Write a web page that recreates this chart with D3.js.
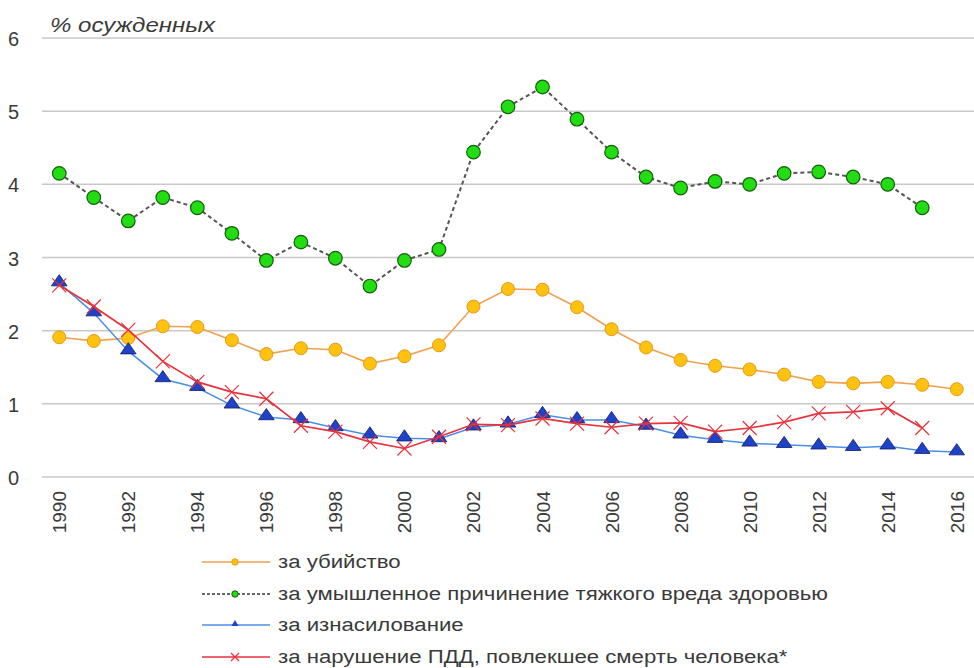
<!DOCTYPE html>
<meta charset="utf-8">
<style>
body { margin: 0; background: #fff; }
text { font-family: "Liberation Sans", Arial, sans-serif; fill: #3a3a3a; }
</style>
<body>
<svg id="chart" width="974" height="668"></svg>
<script src="https://cdn.jsdelivr.net/npm/d3@7"></script>
<script>
// data
var years = d3.range(1990, 2017);
var yTicks = [0, 1, 2, 3, 4, 5, 6];
var xTickYears = d3.range(1990, 2017, 2);

var murder = [1.91, 1.86, 1.90, 2.06, 2.05, 1.87, 1.68, 1.76, 1.74, 1.55, 1.65, 1.80, 2.33, 2.57, 2.56, 2.32, 2.02, 1.77, 1.60, 1.52, 1.47, 1.40, 1.30, 1.28, 1.30, 1.26, 1.20];
var harm = [4.15, 3.82, 3.50, 3.82, 3.68, 3.33, 2.96, 3.21, 2.99, 2.61, 2.96, 3.11, 4.44, 5.06, 5.33, 4.89, 4.44, 4.10, 3.95, 4.04, 4.00, 4.15, 4.17, 4.10, 4.00, 3.68, null];
var rape = [2.65, 2.24, 1.72, 1.34, 1.22, 0.98, 0.82, 0.78, 0.67, 0.57, 0.53, 0.52, 0.68, 0.72, 0.85, 0.78, 0.78, 0.69, 0.57, 0.51, 0.46, 0.44, 0.42, 0.40, 0.42, 0.36, 0.34];
var traffic = [2.62, 2.33, 2.01, 1.58, 1.30, 1.16, 1.07, 0.70, 0.62, 0.48, 0.39, 0.55, 0.72, 0.71, 0.80, 0.73, 0.68, 0.73, 0.74, 0.62, 0.67, 0.75, 0.87, 0.89, 0.94, 0.67, null];

var labels = [
  "за убийство",
  "за умышленное причинение тяжкого вреда здоровью",
  "за изнасилование",
  "за нарушение ПДД, повлекшее смерть человека*"
];

var svg = d3.select("#chart");

var x = d3.scalePoint()
    .domain(years)
    .range([42, 974])
    .padding(0.5);
var y = d3.scaleLinear()
    .domain([0, 6])
    .range([477, 38]);

// grid
svg.append("g")
  .selectAll("line")
  .data(yTicks)
  .join("line")
    .attr("x1", 42).attr("x2", 974)
    .attr("y1", d => y(d)).attr("y2", d => y(d))
    .attr("stroke", "#c8c8c8")
    .attr("stroke-width", 1.5);

// y labels
svg.append("g")
  .selectAll("text")
  .data(yTicks)
  .join("text")
    .attr("x", 8)
    .attr("y", d => y(d) + 8)
    .attr("font-size", 20)
    .text(d => d);

// x labels
svg.append("g")
  .selectAll("text")
  .data(xTickYears)
  .join("text")
    .attr("transform", d => "translate(" + (x(d) + 7) + ",491) rotate(-90)")
    .attr("text-anchor", "end")
    .attr("font-size", 19)
    .text(d => d);

// title
svg.append("text")
    .attr("x", 50).attr("y", 32)
    .attr("font-size", 20)
    .attr("font-style", "italic")
    .attr("textLength", 165)
    .attr("lengthAdjust", "spacingAndGlyphs")
    .text("% осужденных");

var line = d3.line()
    .defined(d => d != null)
    .x((d, i) => x(years[i]))
    .y(d => y(d));

function pts(arr) {
  return arr.map((v, i) => ({ year: years[i], v: v })).filter(d => d.v != null);
}

var tri = d3.symbol().type(d3.symbolTriangle);

// murder
svg.append("path").datum(murder)
    .attr("d", line).attr("fill", "none")
    .attr("stroke", "#f0a050").attr("stroke-width", 1.6);
svg.append("g").selectAll("circle").data(pts(murder)).join("circle")
    .attr("cx", d => x(d.year)).attr("cy", d => y(d.v)).attr("r", 6.5)
    .attr("fill", "#ffc20e").attr("stroke", "#e39a1c").attr("stroke-width", 1);

// heavy harm
svg.append("path").datum(harm)
    .attr("d", line).attr("fill", "none")
    .attr("stroke", "#555").attr("stroke-width", 2)
    .attr("stroke-dasharray", "4,3");
svg.append("g").selectAll("circle").data(pts(harm)).join("circle")
    .attr("cx", d => x(d.year)).attr("cy", d => y(d.v)).attr("r", 6.8)
    .attr("fill", "#22dd11").attr("stroke", "#135f0c").attr("stroke-width", 1.2);

// rape
svg.append("path").datum(rape)
    .attr("d", line).attr("fill", "none")
    .attr("stroke", "#4a8fe6").attr("stroke-width", 1.5);
svg.append("g").selectAll("path").data(pts(rape)).join("path")
    .attr("d", tri.size(80))
    .attr("transform", d => "translate(" + x(d.year) + "," + (y(d.v) - 1) + ") scale(1.15,0.95)")
    .attr("fill", "#1f43c8").attr("stroke", "#13206e").attr("stroke-width", 0.8);

// traffic
svg.append("path").datum(traffic)
    .attr("d", line).attr("fill", "none")
    .attr("stroke", "#e8323c").attr("stroke-width", 1.7);
svg.append("g").selectAll("path").data(pts(traffic)).join("path")
    .attr("d", "M-7,-7L7,7M-7,7L7,-7")
    .attr("transform", d => "translate(" + x(d.year) + "," + y(d.v) + ")")
    .attr("fill", "none").attr("stroke", "#e8323c").attr("stroke-width", 1.2);

// legend
var legY = [562, 594, 625, 657];
var leg = svg.append("g");
var colors = ["#f0a050", "#1a7a1a", "#4a8fe6", "#e8323c"];
legY.forEach(function(ly, i) {
  var g = leg.append("g").attr("transform", "translate(0," + ly + ")");
  var ln = g.append("line").attr("x1", 202).attr("x2", 270).attr("y1", 0).attr("y2", 0)
      .attr("stroke", i == 1 ? "#333" : colors[i]).attr("stroke-width", 1.5);
  if (i == 1) ln.attr("stroke-dasharray", "3,2");
  if (i == 0) g.append("circle").attr("cx", 235).attr("r", 3.2).attr("fill", "#ffc20e").attr("stroke", "#e39a1c");
  if (i == 1) g.append("circle").attr("cx", 235).attr("r", 3.2).attr("fill", "#22dd11").attr("stroke", "#135f0c");
  if (i == 2) g.append("path").attr("d", tri.size(22)).attr("transform", "translate(235,-1)").attr("fill", "#1f43c8");
  if (i == 3) g.append("path").attr("d", "M-4,-4L4,4M-4,4L4,-4").attr("transform", "translate(235,0)")
      .attr("stroke", "#e8323c").attr("stroke-width", 1.2);
  g.append("text").attr("class", "leg").attr("x", 278).attr("y", 6)
      .attr("font-size", 18).text(labels[i]);
});

// stretch legend text to the width seen in the picture
var texts = leg.selectAll("text.leg");
var k = 550 / texts.nodes()[1].getComputedTextLength();
texts.each(function() {
  var w = this.getComputedTextLength();
  d3.select(this).attr("textLength", w * k).attr("lengthAdjust", "spacingAndGlyphs");
});
</script>
</body>
